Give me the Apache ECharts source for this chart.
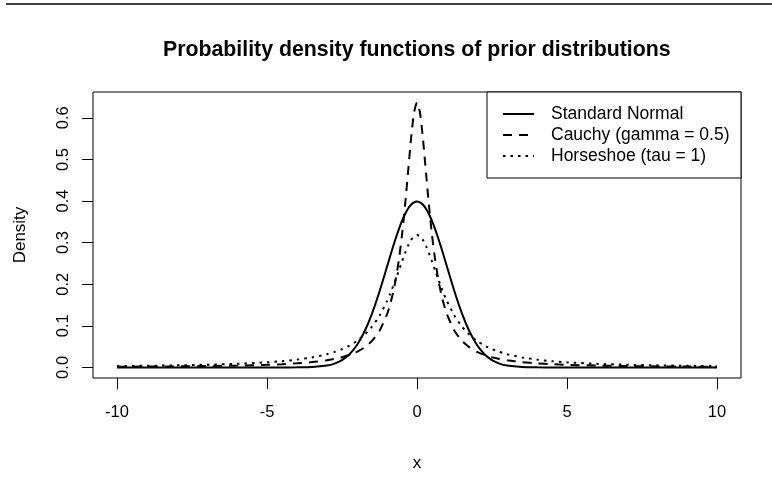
<!DOCTYPE html>
<html>
<head>
<meta charset="utf-8">
<script src="https://cdn.jsdelivr.net/npm/echarts@6/dist/echarts.min.js"></script>
<style>
html,body{margin:0;padding:0;background:#fff;}
#chart{width:772px;height:484px;}
</style>
</head>
<body>
<div id="chart"></div>
<script>
const xValues = [-10,-9,-8,-7,-6,-5,-4.5,-4,-3.5,-3,-2.75,-2.5,-2.25,-2,-1.75,-1.5,-1.25,-1,-0.9,-0.8,-0.7,-0.6,-0.5,-0.4,-0.3,-0.2,-0.1,0,
  0.1,0.2,0.3,0.4,0.5,0.6,0.7,0.8,0.9,1,1.25,1.5,1.75,2,2.25,2.5,2.75,3,3.5,4,4.5,5,6,7,8,9,10];
const normalValues = [0,0,0,0,0,0,0.00002,0.00013,0.00087,0.00443,0.00909,0.01753,0.03174,0.05399,0.08628,0.12952,0.18265,0.24197,0.26609,0.28969,0.31225,0.33322,0.35207,0.36827,0.38139,0.39104,0.39695,0.39894,
  0.39695,0.39104,0.38139,0.36827,0.35207,0.33322,0.31225,0.28969,0.26609,0.24197,0.18265,0.12952,0.08628,0.05399,0.03174,0.01753,0.00909,0.00443,0.00087,0.00013,0.00002,0,0,0,0,0,0];
const cauchyValues = [0.00159,0.00196,0.00248,0.00323,0.00439,0.0063,0.00776,0.00979,0.01273,0.01721,0.02037,0.02448,0.02996,0.03745,0.04805,0.06366,0.08781,0.12732,0.15015,0.17883,0.21507,0.26091,0.31831,0.38818,0.4681,0.54881,0.61214,0.63662,
  0.61214,0.54881,0.4681,0.38818,0.31831,0.26091,0.21507,0.17883,0.15015,0.12732,0.08781,0.06366,0.04805,0.03745,0.02996,0.02448,0.02037,0.01721,0.01273,0.00979,0.00776,0.0063,0.00439,0.00323,0.00248,0.00196,0.00159];
const horseshoeValues = [0.00315,0.00388,0.0049,0.00637,0.0086,0.01224,0.01498,0.01872,0.02402,0.03183,0.03718,0.0439,0.05251,0.06366,0.07835,0.09794,0.12422,0.15915,0.17586,0.19409,0.21363,0.23405,0.25465,0.27441,0.29203,0.30607,0.31516,0.31831,
  0.31516,0.30607,0.29203,0.27441,0.25465,0.23405,0.21363,0.19409,0.17586,0.15915,0.12422,0.09794,0.07835,0.06366,0.05251,0.0439,0.03718,0.03183,0.02402,0.01872,0.01498,0.01224,0.0086,0.00637,0.0049,0.00388,0.00315];
const seriesNames = ['Standard Normal','Cauchy (gamma = 0.5)','Horseshoe (tau = 1)'];
const xTicks = [-10,-5,0,5,10];
const yTicks = [0,0.1,0.2,0.3,0.4,0.5,0.6];

const FONT = '"Liberation Sans", Arial, Helvetica, sans-serif';
function pairs(ys){ return xValues.map((x,i)=>[x,ys[i]]); }

const chart = echarts.init(document.getElementById('chart'), null, {renderer:'canvas'});
chart.setOption({
  animation:false,
  backgroundColor:'#fff',
  title:{
    text:'Probability density functions of prior distributions',
    left:163, top:40, padding:0,
    textStyle:{fontFamily:FONT,fontSize:21.3,fontWeight:'bold',color:'#000'}
  },
  grid:{left:93,right:31,top:92,bottom:106,show:true,borderColor:'#000',borderWidth:1,backgroundColor:'transparent'},
  xAxis:{
    type:'value', min:-10.8, max:10.8,
    name:'x', nameLocation:'middle', nameGap:77,
    nameTextStyle:{fontFamily:FONT,fontSize:17,color:'#000'},
    splitLine:{show:false}, axisLine:{show:false,onZero:false},
    axisTick:{show:true,inside:false,length:11,customValues:xTicks,lineStyle:{color:'#000',width:1}},
    axisLabel:{show:true,customValues:xTicks,margin:26,fontFamily:FONT,fontSize:16.5,color:'#000'}
  },
  yAxis:{
    type:'value', min:-0.025465, max:0.662085,
    name:'Density', nameLocation:'middle', nameGap:64, nameRotate:90,
    nameTextStyle:{fontFamily:FONT,fontSize:17,color:'#000'},
    splitLine:{show:false}, axisLine:{show:false,onZero:false},
    axisTick:{show:true,inside:false,length:11,customValues:yTicks,lineStyle:{color:'#000',width:1}},
    axisLabel:{show:true,customValues:yTicks,rotate:90,margin:21,fontFamily:FONT,fontSize:16.5,color:'#000',
      formatter:v=>Number(v).toFixed(1)}
  },
  legend:{
    orient:'vertical', left:502, top:105, z:20, padding:0,
    itemWidth:31, itemHeight:14, itemGap:3,
    itemStyle:{opacity:0},
    textStyle:{fontFamily:FONT,fontSize:17.5,color:'#000',padding:[0,0,0,12]},
    data:seriesNames.map(n=>({name:n})),
    selectedMode:false
  },
  graphic:[
    {type:'rect',shape:{x:487,y:92,width:254,height:86},style:{fill:'#fff',stroke:'#000',lineWidth:1},z:5},
    {type:'line',shape:{x1:6,y1:4,x2:772,y2:4},style:{stroke:'#000',lineWidth:1.5}}
  ],
  series:[
    {name:seriesNames[0],type:'line',data:pairs(normalValues),showSymbol:false,symbol:'none',smooth:0.2,
     lineStyle:{color:'#000',width:2,type:'solid'},itemStyle:{color:'#000'}},
    {name:seriesNames[1],type:'line',data:pairs(cauchyValues),showSymbol:false,symbol:'none',smooth:0.2,
     lineStyle:{color:'#000',width:2,type:[9,7]},itemStyle:{color:'#000'}},
    {name:seriesNames[2],type:'line',data:pairs(horseshoeValues),showSymbol:false,symbol:'none',smooth:0.2,
     lineStyle:{color:'#000',width:2,type:[2.5,5]},itemStyle:{color:'#000'}}
  ]
});
</script>
</body>
</html>
